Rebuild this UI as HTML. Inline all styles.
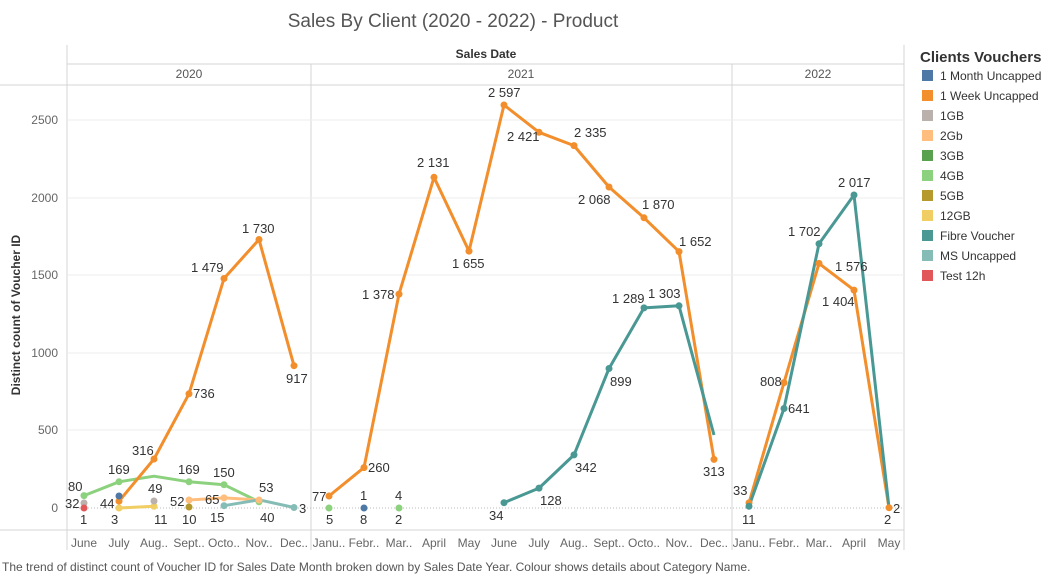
<!DOCTYPE html>
<html><head><meta charset="utf-8"><style>
body{margin:0;background:#fff;width:1058px;height:577px;overflow:hidden;font-family:"Liberation Sans",sans-serif}
svg text{font-family:"Liberation Sans",sans-serif}
</style></head><body>
<svg width="1058" height="577" viewBox="0 0 1058 577" xmlns="http://www.w3.org/2000/svg">
<text x="453" y="27" font-size="19" fill="#555" text-anchor="middle">Sales By Client (2020 - 2022) - Product</text>
<text x="486" y="58" font-size="12" font-weight="bold" fill="#333" text-anchor="middle">Sales Date</text>
<g stroke="#d4d4d4" stroke-width="1">
<line x1="67" y1="45" x2="67" y2="550"/><line x1="311" y1="64" x2="311" y2="550"/><line x1="732" y1="64" x2="732" y2="550"/><line x1="904" y1="45" x2="904" y2="550"/>
<line x1="0" y1="85" x2="904" y2="85"/><line x1="67" y1="64" x2="904" y2="64"/><line x1="0" y1="530" x2="904" y2="530"/>
</g>
<g stroke="#eeeeee"><line x1="67" y1="120" x2="904" y2="120"/><line x1="67" y1="198" x2="904" y2="198"/><line x1="67" y1="275" x2="904" y2="275"/><line x1="67" y1="353" x2="904" y2="353"/><line x1="67" y1="430" x2="904" y2="430"/></g>
<line x1="67" y1="508" x2="904" y2="508" stroke="#bbb" stroke-dasharray="1,2"/>
<g font-size="12" fill="#555" text-anchor="middle"><text x="189" y="78">2020</text><text x="521" y="78">2021</text><text x="818" y="78">2022</text></g>
<g font-size="12" fill="#666" text-anchor="end"><text x="58" y="124">2500</text><text x="58" y="202">2000</text><text x="58" y="279">1500</text><text x="58" y="357">1000</text><text x="58" y="434">500</text><text x="58" y="512">0</text></g>
<text transform="translate(20,315) rotate(-90)" font-size="12" font-weight="bold" fill="#333" text-anchor="middle">Distinct count of Voucher ID</text>
<g font-size="12" fill="#666" text-anchor="middle">
<text x="84" y="547">June</text><text x="119" y="547">July</text><text x="154" y="547">Aug..</text><text x="189" y="547">Sept..</text><text x="224" y="547">Octo..</text><text x="259" y="547">Nov..</text><text x="294" y="547">Dec..</text>
<text x="329" y="547">Janu..</text><text x="364" y="547">Febr..</text><text x="399" y="547">Mar..</text><text x="434" y="547">April</text><text x="469" y="547">May</text><text x="504" y="547">June</text><text x="539" y="547">July</text><text x="574" y="547">Aug..</text><text x="609" y="547">Sept..</text><text x="644" y="547">Octo..</text><text x="679" y="547">Nov..</text><text x="714" y="547">Dec..</text>
<text x="749" y="547">Janu..</text><text x="784" y="547">Febr..</text><text x="819" y="547">Mar..</text><text x="854" y="547">April</text><text x="889" y="547">May</text>
</g>
<g fill="none" stroke-width="3" stroke-linejoin="round">
<polyline stroke="#8cd17d" points="84,495.6 119,481.8 154,476.2 189,481.8 224,484.7 259,501.8"/>
<polyline stroke="#f1ce63" points="119,508 154,506.3"/>
<polyline stroke="#ffbe7d" points="189,500 224,497.9 259,500"/>
<polyline stroke="#86bcb6" points="224,505.7 259,499.8 294,507.5"/>
<polyline stroke="#f28e2b" points="119,501.2 154,459 189,393.8 224,278.5 259,239.5 294,365.7"/>
<polyline stroke="#f28e2b" points="329,496 364,467.6 399,294.1 434,177.3 469,251.1 504,105 539,132.3 574,145.6 609,187 644,217.8 679,251.6 714,459.4"/>
<polyline stroke="#499894" points="504,502.7 539,488.1 574,454.9 609,368.5 644,307.9 679,305.8 714,435"/>
<polyline stroke="#f28e2b" points="749,502.9 784,382.6 819,263.4 854,290.1 889,507.7"/>
<polyline stroke="#499894" points="749,506.3 784,408.5 819,243.8 854,195 889,507.7"/>
</g>
<g fill="#f28e2b"><circle cx="119" cy="501.2" r="3.5"/><circle cx="154" cy="459" r="3.5"/><circle cx="189" cy="393.8" r="3.5"/><circle cx="224" cy="278.5" r="3.5"/><circle cx="259" cy="239.5" r="3.5"/><circle cx="294" cy="365.7" r="3.5"/>
<circle cx="329" cy="496" r="3.5"/><circle cx="364" cy="467.6" r="3.5"/><circle cx="399" cy="294.1" r="3.5"/><circle cx="434" cy="177.3" r="3.5"/><circle cx="469" cy="251.1" r="3.5"/><circle cx="504" cy="105" r="3.5"/><circle cx="539" cy="132.3" r="3.5"/><circle cx="574" cy="145.6" r="3.5"/><circle cx="609" cy="187" r="3.5"/><circle cx="644" cy="217.8" r="3.5"/><circle cx="679" cy="251.6" r="3.5"/><circle cx="714" cy="459.4" r="3.5"/>
<circle cx="749" cy="502.9" r="3.5"/><circle cx="784" cy="382.6" r="3.5"/><circle cx="819" cy="263.4" r="3.5"/><circle cx="854" cy="290.1" r="3.5"/><circle cx="889" cy="507.7" r="3.5"/></g>
<g fill="#499894"><circle cx="504" cy="502.7" r="3.5"/><circle cx="539" cy="488.1" r="3.5"/><circle cx="574" cy="454.9" r="3.5"/><circle cx="609" cy="368.5" r="3.5"/><circle cx="644" cy="307.9" r="3.5"/><circle cx="679" cy="305.8" r="3.5"/>
<circle cx="749" cy="506.3" r="3.5"/><circle cx="784" cy="408.5" r="3.5"/><circle cx="819" cy="243.8" r="3.5"/><circle cx="854" cy="195" r="3.5"/></g>
<g fill="#8cd17d"><circle cx="84" cy="495.6" r="3.5"/><circle cx="119" cy="481.8" r="3.5"/><circle cx="189" cy="481.8" r="3.5"/><circle cx="224" cy="484.7" r="3.5"/><circle cx="259" cy="501.8" r="3.5"/><circle cx="329" cy="508" r="3.5"/><circle cx="399" cy="508" r="3.5"/></g>
<circle cx="119" cy="508" r="3.5" fill="#f1ce63"/><circle cx="154" cy="506.3" r="3.5" fill="#f1ce63"/>
<circle cx="189" cy="500" r="3.5" fill="#ffbe7d"/><circle cx="224" cy="497.9" r="3.5" fill="#ffbe7d"/><circle cx="259" cy="500" r="3.5" fill="#ffbe7d"/>
<circle cx="224" cy="505.7" r="3.5" fill="#86bcb6"/><circle cx="294" cy="507.5" r="3.5" fill="#86bcb6"/>
<circle cx="84" cy="503" r="3.5" fill="#bab0ac"/><circle cx="154" cy="501" r="3.5" fill="#bab0ac"/>
<circle cx="84" cy="508" r="3.5" fill="#e15759"/><circle cx="119" cy="496" r="3.5" fill="#4e79a7"/><circle cx="364" cy="508" r="3.5" fill="#4e79a7"/>
<circle cx="189" cy="507" r="3.5" fill="#b6992d"/>
<g font-size="13" fill="#333">
<text x="68" y="491">80</text><text x="108" y="474">169</text><text x="132" y="455">316</text><text x="193" y="398">736</text><text x="191" y="272">1 479</text><text x="242" y="233">1 730</text><text x="286" y="383">917</text>
<text x="65" y="508">32</text><text x="100" y="508">44</text><text x="148" y="493">49</text><text x="170" y="506">52</text><text x="205" y="504">65</text><text x="259" y="492">53</text><text x="178" y="474">169</text><text x="213" y="477">150</text>
<text x="80" y="524">1</text><text x="111" y="524">3</text><text x="154" y="524">11</text><text x="182" y="524">10</text><text x="210" y="522">15</text><text x="260" y="522">40</text><text x="299" y="513">3</text>
<text x="312" y="501">77</text><text x="368" y="472">260</text><text x="362" y="299">1 378</text><text x="417" y="167">2 131</text><text x="452" y="268">1 655</text><text x="488" y="97">2 597</text><text x="507" y="141">2 421</text><text x="574" y="137">2 335</text><text x="578" y="204">2 068</text><text x="642" y="209">1 870</text><text x="679" y="246">1 652</text><text x="703" y="476">313</text>
<text x="326" y="524">5</text><text x="360" y="524">8</text><text x="395" y="524">2</text><text x="360" y="500">1</text><text x="395" y="500">4</text>
<text x="489" y="520">34</text><text x="540" y="505">128</text><text x="575" y="472">342</text><text x="610" y="386">899</text><text x="612" y="303">1 289</text><text x="648" y="298">1 303</text>
<text x="733" y="495">33</text><text x="742" y="524">11</text><text x="760" y="386">808</text><text x="788" y="413">641</text><text x="788" y="236">1 702</text><text x="835" y="271">1 576</text><text x="822" y="306">1 404</text><text x="838" y="187">2 017</text><text x="884" y="524">2</text><text x="893" y="513">2</text>
</g>
<text x="920" y="62" font-size="15" font-weight="bold" fill="#333">Clients Vouchers</text>
<g font-size="12" fill="#333">
<rect x="922" y="70" width="11" height="11" fill="#4e79a7"/><text x="940" y="80">1 Month Uncapped</text>
<rect x="922" y="90" width="11" height="11" fill="#f28e2b"/><text x="940" y="100">1 Week Uncapped</text>
<rect x="922" y="110" width="11" height="11" fill="#bab0ac"/><text x="940" y="120">1GB</text>
<rect x="922" y="130" width="11" height="11" fill="#ffbe7d"/><text x="940" y="140">2Gb</text>
<rect x="922" y="150" width="11" height="11" fill="#59a14f"/><text x="940" y="160">3GB</text>
<rect x="922" y="170" width="11" height="11" fill="#8cd17d"/><text x="940" y="180">4GB</text>
<rect x="922" y="190" width="11" height="11" fill="#b6992d"/><text x="940" y="200"> 5GB</text>
<rect x="922" y="210" width="11" height="11" fill="#f1ce63"/><text x="940" y="220">12GB</text>
<rect x="922" y="230" width="11" height="11" fill="#499894"/><text x="940" y="240">Fibre Voucher</text>
<rect x="922" y="250" width="11" height="11" fill="#86bcb6"/><text x="940" y="260">MS Uncapped</text>
<rect x="922" y="270" width="11" height="11" fill="#e15759"/><text x="940" y="280">Test 12h</text>
</g>
<text x="2" y="571" font-size="12" fill="#555">The trend of distinct count of Voucher ID for Sales Date Month broken down by Sales Date Year. Colour shows details about Category Name.</text>
</svg>
</body></html>
